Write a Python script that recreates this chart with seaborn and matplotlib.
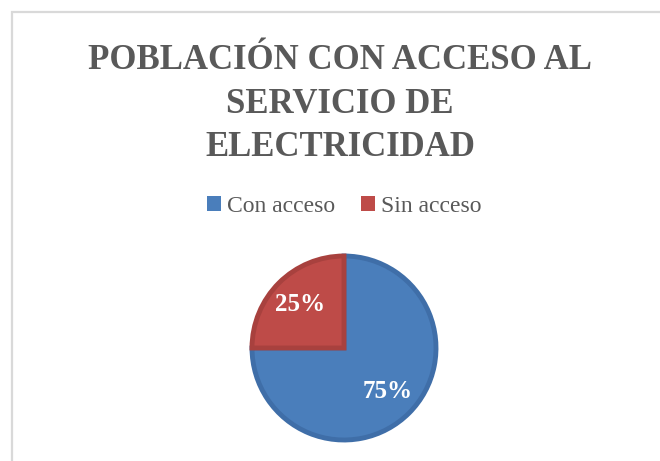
# Pie chart: access to electricity service
import matplotlib
matplotlib.use("Agg")
import matplotlib.pyplot as plt
from matplotlib.patches import Rectangle, Patch
import seaborn as sns

labels = ["Con acceso", "Sin acceso"]
values = [75, 25]
colors = ["#4a7ebb", "#be4b48"]
edge_colors = ["#3f6ea8", "#a8413e"]
title_lines = ["POBLACIÓN CON ACCESO AL", "SERVICIO DE", "ELECTRICIDAD"]

sns.set_theme(style="white")
plt.rcParams['font.family'] = ['Liberation Serif', 'DejaVu Serif']


def plot():
    fig = plt.figure(figsize=(6.6, 4.61), dpi=100)

    # light grey chart frame (only top and left edge visible)
    fig.patches.append(Rectangle((12 / 660, -0.1), 1.2, 1 - 12 / 461 + 0.1,
                                 transform=fig.transFigure, fill=False,
                                 edgecolor="#d9d9d9", linewidth=1.6))

    # title
    baselines = [69, 113, 156]
    for line, yb in zip(title_lines, baselines):
        fig.text(340 / 660, 1 - yb / 461, line, ha="center", va="baseline",
                 fontsize=25, fontweight="bold", color="#595959")

    # pie
    cx, cy, r = 344, 348, 92
    ax = fig.add_axes([(cx - r) / 660, 1 - (cy + r) / 461, 2 * r / 660, 2 * r / 461])
    wedges, texts, autotexts = ax.pie(
        values, colors=colors, startangle=90, counterclock=False,
        autopct="%1.0f%%", pctdistance=0.67,
        wedgeprops=dict(linewidth=3.5),
        textprops=dict(color="white", fontsize=18, fontweight="bold"))
    for w, ec in zip(wedges, edge_colors):
        w.set_edgecolor(ec)
    ax.set_xlim(-1, 1)
    ax.set_ylim(-1, 1)
    ax.set_aspect("equal")
    ax.axis("off")

    handles = [Patch(facecolor=c, edgecolor="none") for c in colors]
    fig.legend(handles, labels, loc="center", bbox_to_anchor=(344 / 660, 1 - 206 / 461),
               ncol=2, frameon=False, fontsize=17, labelcolor="#595959",
               handlelength=0.6, handleheight=0.6, handletextpad=0.25,
               columnspacing=1.1)

    fig.savefig("out.png", dpi=100, facecolor="white")


if __name__ == "__main__":
    plot()
